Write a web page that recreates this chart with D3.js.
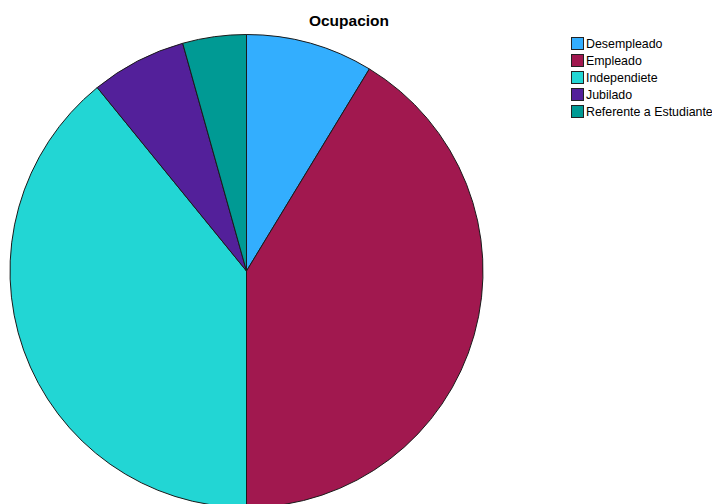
<!DOCTYPE html>
<html><head><meta charset="utf-8">
<script src="https://cdn.jsdelivr.net/npm/d3@7"></script>
<style>body{margin:0;background:#fff;overflow:hidden}</style>
</head><body>
<svg id="c" width="712" height="504"></svg>
<script>
const categories = ["Desempleado", "Empleado", "Independiete", "Jubilado", "Referente a Estudiante"];
const values = [4, 19, 18, 3, 2];
const colors = ["#33AEFE", "#A1184F", "#22D6D4", "#53209A", "#009A94"];
const title = "Ocupacion";

const svg = d3.select("#c");
const cx = 246.5, cy = 271, r = 236.5;
const pie = d3.pie().sort(null).value(d => d)(values);
const arc = d3.arc().innerRadius(0).outerRadius(r);
const g = svg.append("g").attr("transform", `translate(${cx},${cy})`);
g.selectAll("path").data(pie).enter().append("path")
  .attr("d", arc)
  .attr("fill", (d, i) => colors[i])
  .attr("stroke", "#1a1a1a").attr("stroke-width", 1);

svg.append("text").attr("x", 349).attr("y", 26).attr("text-anchor", "middle")
  .attr("font-family", "Liberation Sans, Arial, sans-serif").attr("font-weight", "bold")
  .attr("font-size", 15.5).text(title);

const lg = svg.append("g").attr("transform", "translate(571,37)");
categories.forEach((c, i) => {
  lg.append("rect").attr("x", 0.5).attr("y", i * 17 + 0.5).attr("width", 12).attr("height", 12)
    .attr("fill", colors[i]).attr("stroke", "#222").attr("stroke-width", 1);
  lg.append("text").attr("x", 15).attr("y", i * 17 + 11)
    .attr("font-family", "Liberation Sans, Arial, sans-serif").attr("font-size", 12.4)
    .attr("fill", "#000").text(c);
});
</script>
</body></html>
